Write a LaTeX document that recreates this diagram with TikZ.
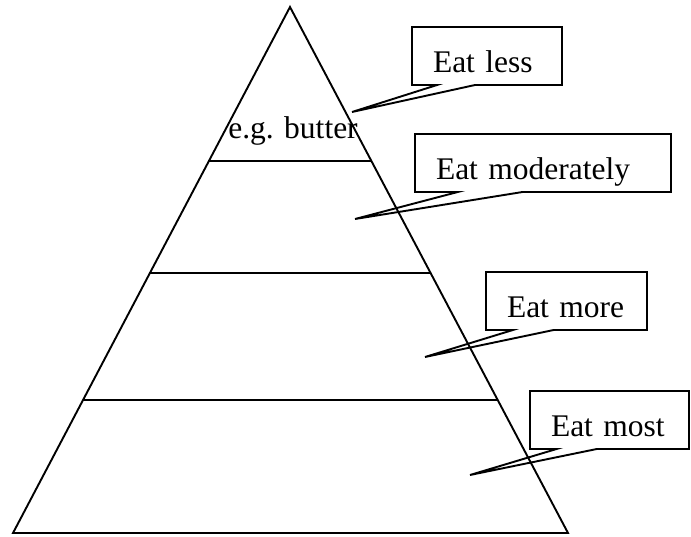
\documentclass[tikz,border=0pt]{standalone}
\usepackage{fontspec}
\setmainfont{Liberation Serif}
\usetikzlibrary{calc}

\begin{document}
\begin{tikzpicture}[x=1pt, y=-1pt, line width=1.9pt,
  callout/.style={inner xsep=21pt, inner ysep=0pt, outer sep=0pt, text height=45pt, text depth=13pt, align=left, anchor=north west, font=\fontsize{31.5}{36}\selectfont},
  tag/.style={anchor=base, inner sep=0pt, font=\fontsize{31.5}{36}\selectfont}]
\useasboundingbox (0,0) rectangle (691,536);
\def\balloon#1#2{\draw[line join=miter] (#1.south west) -- (#1.north west) -- (#1.north east) -- (#1.south east) -- ($(#1.south west)!0.42!(#1.south east)$) -- (#2) -- ($(#1.south west)!0.167!(#1.south east)$) -- cycle;}
% pyramid
\coordinate (apex) at (290,7);
\coordinate (bl) at (13,533);
\coordinate (br) at (568,533);
\draw[line join=miter] (apex) -- (bl) -- (br) -- cycle;
\foreach \t in {0.293, 0.506, 0.747}
  \draw ($(apex)!\t!(bl)$) -- ($(apex)!\t!(br)$);
\node[tag] (butter) at (293,138) {e.g. butter};
% callouts
\node[callout, text width=108pt] (less) at (412,27) {Eat less};
\node[callout, text width=214pt] (moderately) at (415,134) {Eat moderately};
\node[callout, text width=119pt] (more) at (486,272) {Eat more};
\node[callout, text width=117pt] (most) at (530,391) {Eat most};
\coordinate (tless) at (352,112);
\coordinate (tmoderately) at (355,219);
\coordinate (tmore) at (425,357);
\coordinate (tmost) at (470,475);
\balloon{less}{tless}
\balloon{moderately}{tmoderately}
\balloon{more}{tmore}
\balloon{most}{tmost}
\end{tikzpicture}
\end{document}
